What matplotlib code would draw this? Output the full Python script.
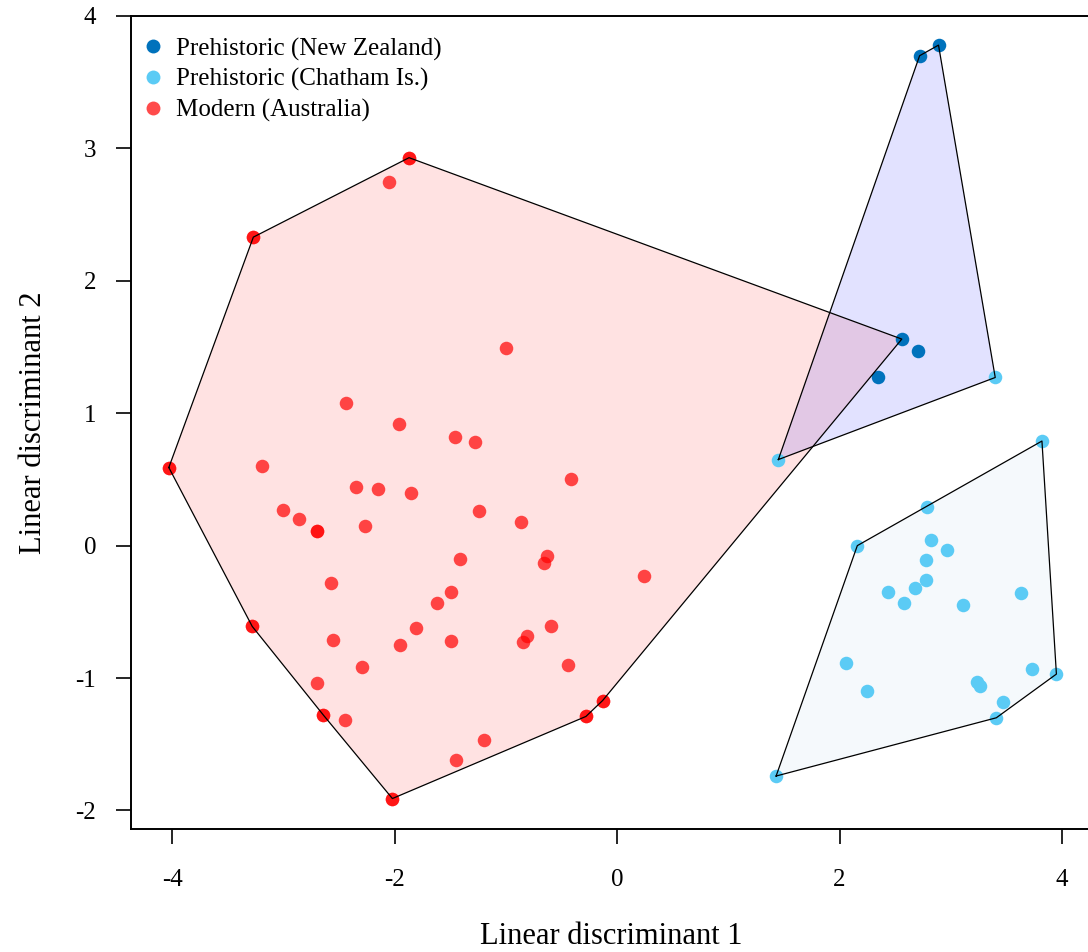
import numpy as np
import matplotlib
matplotlib.use('Agg')
import matplotlib.pyplot as plt
from matplotlib.lines import Line2D

plt.rcParams['font.family'] = ['Liberation Serif', 'DejaVu Serif']
plt.rcParams['axes.unicode_minus'] = False

# ── data ──────────────────────────────────────────────────────────────────────
# hull = group the point was assigned to (used for the convex hulls)
NZ_X    = [2.89, 2.72, 2.56, 2.71, 2.35]
NZ_Y    = [3.78, 3.70, 1.56, 1.47, 1.27]
NZ_HULL = ['nz', 'nz', 'au', 'nz', 'nz']

CH_X = [1.45, 3.40, 3.82, 2.79, 2.16, 2.82, 2.97, 2.78, 2.78, 2.68, 2.44, 2.58,
        3.11, 3.63, 2.06, 2.25, 3.24, 3.26, 3.73, 3.95, 3.47, 3.41, 1.43]
CH_Y = [0.65, 1.27, 0.79, 0.29, 0.00, 0.04, -0.03, -0.11, -0.26, -0.32, -0.35, -0.43,
        -0.45, -0.36, -0.89, -1.10, -1.03, -1.06, -0.93, -0.97, -1.18, -1.30, -1.74]
CH_HULL = ['nz', 'nz'] + ['ch'] * 21

AU_X = [-3.27, -1.87, -2.05, -1.00, -2.44, -1.96, -1.46, -1.28, -4.03, -3.19,
        -2.35, -2.15, -1.85, -3.00, -2.86, -2.70, -2.70, -2.27, -1.24, -0.86,
        -0.41, -1.41, -0.63, -0.66, 0.24, -1.49, -1.62, -2.57, -3.28, -1.81,
        -2.55, -1.95, -1.49, -0.59, -0.81, -0.85, -0.44, -2.29, -2.70, -2.64,
        -2.45, -0.13, -0.28, -1.20, -1.45, -2.02]
AU_Y = [2.33, 2.93, 2.75, 1.49, 1.08, 0.92, 0.82, 0.78, 0.59, 0.60,
        0.44, 0.43, 0.40, 0.27, 0.20, 0.11, 0.11, 0.15, 0.26, 0.18,
        0.50, -0.10, -0.08, -0.13, -0.23, -0.35, -0.43, -0.28, -0.61, -0.62,
        -0.71, -0.75, -0.72, -0.61, -0.68, -0.73, -0.90, -0.92, -1.04, -1.28,
        -1.32, -1.17, -1.29, -1.47, -1.62, -1.91]
AU_HULL = ['au'] * len(AU_X)

LABELS = ['Prehistoric (New Zealand)', 'Prehistoric (Chatham Is.)', 'Modern (Australia)']
COL_NZ, COL_CH, COL_AU = '#0072bc', '#5bcbf5', '#ff4b4b'
FILLS = {'au': ('#ff0000', 0.115), 'nz': ('#0000ff', 0.115), 'ch': ('#d0e2f4', 0.2)}


def hull(pts):
    pts = sorted(set(map(tuple, pts)))
    def cross(o, a, b):
        return (a[0]-o[0])*(b[1]-o[1]) - (a[1]-o[1])*(b[0]-o[0])
    lo, up = [], []
    for p in pts:
        while len(lo) >= 2 and cross(lo[-2], lo[-1], p) <= 0:
            lo.pop()
        lo.append(p)
    for p in reversed(pts):
        while len(up) >= 2 and cross(up[-2], up[-1], p) <= 0:
            up.pop()
        up.append(p)
    return np.array(lo[:-1] + up[:-1])


allx = np.array(NZ_X + CH_X + AU_X)
ally = np.array(NZ_Y + CH_Y + AU_Y)
allh = np.array(NZ_HULL + CH_HULL + AU_HULL)

fig = plt.figure(figsize=(10.88, 9.52), dpi=100)
ax = fig.add_axes([131/1088, 123/952, 961/1088, 813/952])

hulls = {}
for g in ('au', 'nz', 'ch'):
    m = allh == g
    hulls[g] = hull(np.column_stack([allx[m], ally[m]]))
    fc, a = FILLS[g]
    ax.fill(hulls[g][:, 0], hulls[g][:, 1], color=fc, alpha=a, lw=0, zorder=1)

ax.scatter(AU_X, AU_Y, s=95, color='#ff0000', alpha=0.7, lw=0, zorder=2)
ax.scatter(CH_X, CH_Y, s=95, color=COL_CH, lw=0, zorder=2)
ax.scatter(NZ_X, NZ_Y, s=95, color=COL_NZ, lw=0, zorder=3)
# red hull vertices get plotted twice -> look more saturated
hv = hulls['au']
hv = hv[hv[:, 0] < 2]
ax.scatter(hv[:, 0], hv[:, 1], s=95, color='#ff0000', alpha=0.7, lw=0, zorder=2)

for g in ('au', 'nz', 'ch'):
    h = np.vstack([hulls[g], hulls[g][:1]])
    ax.plot(h[:, 0], h[:, 1], color='black', lw=0.9, zorder=4)

ax.set_xlim(-4.37, 4.27)
ax.set_ylim(-2.14, 4.0)
ax.set_xticks([-4, -2, 0, 2, 4])
ax.set_yticks([-2, -1, 0, 1, 2, 3, 4])
ax.tick_params(direction='out', length=11, width=1.2, labelsize=18, pad=18)
ax.tick_params(axis='y', pad=14)
for s in ax.spines.values():
    s.set_linewidth(1.4)
ax.spines['right'].set_visible(False)
ax.set_xlabel('Linear discriminant 1', fontsize=22, labelpad=22)
ax.set_ylabel('Linear discriminant 2', fontsize=22, labelpad=20)

handles = [Line2D([0], [0], marker='o', ls='', color=c, markersize=10, mew=0)
           for c in (COL_NZ, COL_CH, COL_AU)]
ax.legend(handles, LABELS, loc='upper left', bbox_to_anchor=(-0.008, 0.995),
          frameon=False, fontsize=18, labelspacing=0.3, handlelength=1.0,
          handletextpad=0.4, borderaxespad=0.3)

fig.savefig('out.png', dpi=100)
